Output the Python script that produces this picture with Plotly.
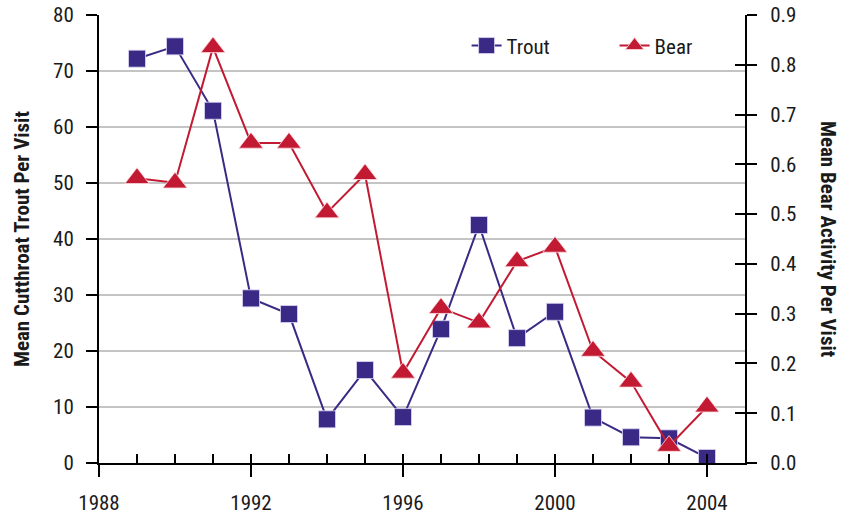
import plotly.graph_objects as go

years = list(range(1989, 2005))
trout = [72.2, 74.4, 62.9, 29.4, 26.6, 7.8, 16.6, 8.2, 23.9, 42.5, 22.3, 27.0, 8.1, 4.6, 4.4, 0.9]
bear = [0.572, 0.563, 0.835, 0.643, 0.643, 0.503, 0.580, 0.181, 0.311, 0.282, 0.405, 0.434, 0.225, 0.163, 0.034, 0.113]

x_ticks = [1988, 1992, 1996, 2000, 2004]
left_ticks = list(range(0, 81, 10))
right_ticks = [round(i * 0.1, 1) for i in range(10)]

TROUT_C = "#3B2A85"
BEAR_C = "#C21A33"
FONT = "Roboto Condensed, Liberation Sans Narrow, Roboto, sans-serif"
TXT = "#1a1a1a"

fig = go.Figure()
fig.add_trace(go.Scatter(
    x=years, y=trout, name="Trout", mode="lines+markers",
    line=dict(color=TROUT_C, width=2),
    marker=dict(symbol="square", size=17, color=TROUT_C,
                line=dict(color="rgba(220,215,245,0.8)", width=1)),
    xaxis="x", yaxis="y",
))
fig.add_trace(go.Scatter(
    x=years, y=bear, name="Bear", mode="lines+markers",
    line=dict(color=BEAR_C, width=2),
    marker=dict(symbol="triangle-up", size=21, color=BEAR_C,
                line=dict(color="rgba(255,220,225,0.8)", width=1)),
    xaxis="x", yaxis="y2",
))

axis_common = dict(showline=True, linecolor="black", linewidth=2,
                   tickcolor="black", tickwidth=2, automargin=False,
                   ticklabeloverflow="allow",
                   tickfont=dict(family=FONT, size=21, color=TXT))

fig.update_layout(
    width=856, height=514,
    margin=dict(l=99, r=111, t=15, b=51),
    paper_bgcolor="white", plot_bgcolor="white",
    font=dict(family=FONT, size=21, color=TXT),
    showlegend=True,
    legend=dict(orientation="h", x=0.569, y=0.931, xanchor="left", yanchor="middle",
                bgcolor="rgba(0,0,0,0)", font=dict(family=FONT, size=21, color=TXT),
                entrywidth=103, entrywidthmode="pixels"),
    xaxis=dict(range=[1988, 2005], tickmode="array", tickvals=x_ticks,
               ticks="outside", ticklen=12, showgrid=False, zeroline=False,
               ticklabelstandoff=8, **axis_common),
    xaxis2=dict(overlaying="x", anchor="y", side="bottom", range=[1988, 2005],
                tickmode="linear", tick0=1988, dtick=1, ticks="inside", ticklen=9,
                tickcolor="black", tickwidth=2, showticklabels=False,
                showgrid=False, zeroline=False, showline=False),
    yaxis=dict(range=[0, 80], tickmode="array", tickvals=left_ticks,
               ticks="outside", ticklen=11, showgrid=True, gridcolor="#C4C4C4",
               gridwidth=1.5, zeroline=False, ticklabelstandoff=8,
               **axis_common),
    yaxis2=dict(range=[0, 0.9], overlaying="y", side="right", anchor="x",
                tickmode="array", tickvals=right_ticks, tickformat=".1f",
                ticks="outside", ticklen=10, showgrid=False, zeroline=False,
                ticklabelstandoff=9, **axis_common),
    yaxis3=dict(range=[0, 0.9], overlaying="y", side="right", anchor="x",
                tickmode="array", tickvals=right_ticks, ticks="inside", ticklen=10,
                tickcolor="black", tickwidth=2, showticklabels=False,
                showgrid=False, zeroline=False, showline=False),
)

# invisible trace so the overlay tick axes are drawn
fig.add_trace(go.Scatter(x=[1988], y=[0], xaxis="x2", yaxis="y3", mode="markers",
                         marker=dict(opacity=0), showlegend=False, hoverinfo="skip"))

fig.add_annotation(text="<b>Mean Cutthroat Trout Per Visit</b>", xref="paper", yref="paper",
                   x=0.0, xshift=-77, y=0.5, xanchor="center", yanchor="middle",
                   textangle=-90, showarrow=False,
                   font=dict(family=FONT, size=21, color=TXT))
fig.add_annotation(text="<b>Mean Bear Activity Per Visit</b>", xref="paper", yref="paper",
                   x=1.0, xshift=83, y=0.5, xanchor="center", yanchor="middle",
                   textangle=90, showarrow=False,
                   font=dict(family=FONT, size=21, color=TXT))

fig.write_html("out.html", config={"displayModeBar": False},
               post_script="document.body.style.margin='0';document.body.style.overflow='hidden';")
